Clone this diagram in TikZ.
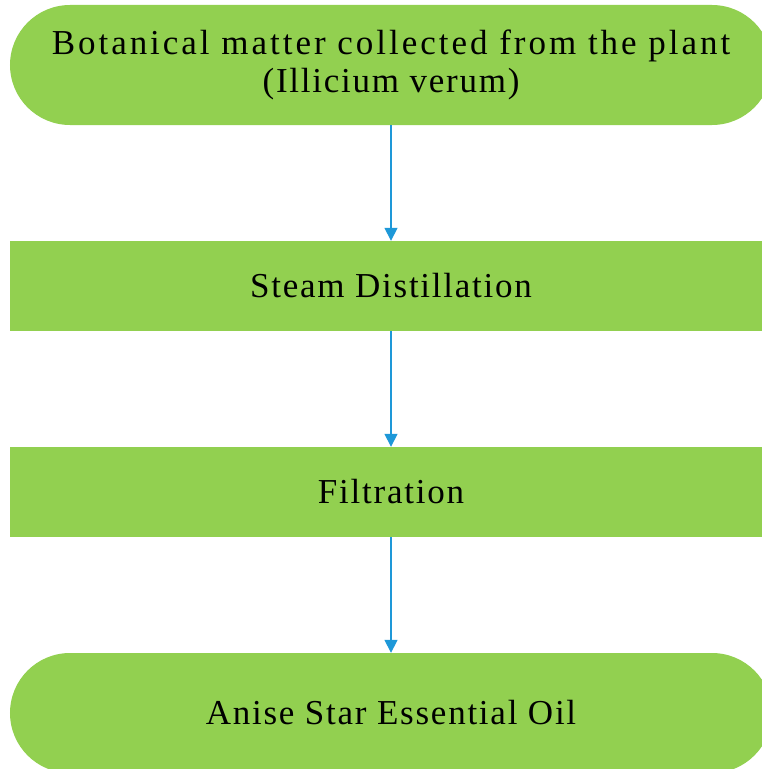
\documentclass[tikz,border=0pt]{standalone}
\usepackage{fontspec}
\setmainfont[LetterSpace=5]{Liberation Serif}
\newfontfamily\widefont[LetterSpace=8.5]{Liberation Serif}
\usepackage{xcolor}
\usepackage{tikz}
\usetikzlibrary{arrows.meta, positioning}
\definecolor{stepgreen}{RGB}{146,208,80}
\definecolor{arrowblue}{RGB}{30,152,216}

\begin{document}
\begin{tikzpicture}[x=1bp,y=-1bp,
    stadium/.style={rectangle,fill=stepgreen,rounded corners=60bp,minimum width=762bp,minimum height=120bp,align=center,font=\fontsize{35bp}{38bp}\selectfont},
    stepbox/.style={rectangle,fill=stepgreen,minimum width=762bp,minimum height=90bp,font=\fontsize{35bp}{38bp}\selectfont},
    flow/.style={arrowblue,line width=1.6bp,-{Triangle[length=13bp,width=13bp]}}]
    \useasboundingbox (0,0) rectangle (762,769);
    \clip (0,0) rectangle (762,769);
    % Fasi del processo
    \node[stadium] (plant) at (391,65) {{\widefont Botanical matter collected from the plant}\\(Illicium verum)};
    \node[stepbox] (steam) at (391,286) {Steam Distillation};
    \node[stepbox] (filter) at (391,492) {Filtration};
    \node[stadium] (oil) at (391,713) {Anise Star Essential Oil};

    % Frecce
    \draw[flow] (plant) -- (steam);
    \draw[flow] (steam) -- (filter);
    \draw[flow] (filter) -- (oil);
\end{tikzpicture}
\end{document}
